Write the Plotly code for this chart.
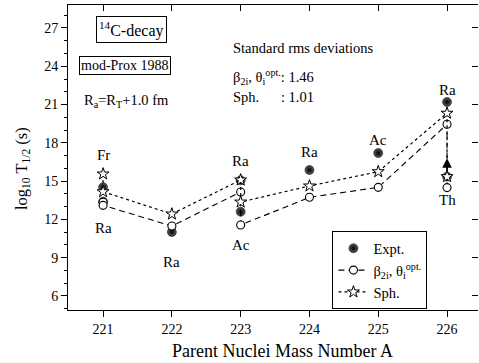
import plotly.graph_objects as go

# ---------------- data ----------------
mass_A = [221, 221, 222, 223, 223, 224, 225, 226, 226]
nuclei = ["Fr", "Ra", "Ra", "Ra", "Ac", "Ra", "Ac", "Ra", "Th"]
expt = [14.52, 13.39, 11.01, 15.06, 12.60, 15.87, 17.20, 21.20, 15.35]
beta_opt = [13.35, 13.10, 11.48, 14.15, 11.56, 13.73, 14.51, 19.45, 14.49]
sph = [15.56, 14.17, 12.42, 15.09, 13.36, 14.62, 15.74, 20.32, 15.35]
lower_limit = [False, False, False, False, False, False, False, False, True]
x_ticks = [221, 222, 223, 224, 225, 226]
y_ticks = [6, 9, 12, 15, 18, 21, 24, 27]

# label placement style (above/below markers, pixel offsets)
label_side = ["above", "below", "below", "above", "below", "above", "above", "above", "below"]
label_shift = [9, -13, -20, 9, -10, 8, 3, 2, -2]

FONT = "Liberation Serif"
X_RANGE = [220.49, 226.45]
Y_RANGE = [4.9, 28.8]

fig = go.Figure()

fig.add_trace(go.Scatter(
    x=mass_A, y=expt, mode="markers", name="Expt.",
    marker=dict(symbol="circle", size=9, color="#5a5a5a",
                gradient=dict(type="radial", color="black"),
                line=dict(color="black", width=0.5)),
))
fig.add_trace(go.Scatter(
    x=mass_A, y=beta_opt, mode="lines+markers",
    name="β<sub>2i</sub>, θ<sub>i</sub><sup>opt.</sup>",
    line=dict(color="black", width=1.1, dash="6px,4px"),
    marker=dict(symbol="circle", size=8, color="white",
                line=dict(color="black", width=1.1)),
))
fig.add_trace(go.Scatter(
    x=mass_A, y=sph, mode="lines+markers", name="Sph.",
    line=dict(color="black", width=1.2, dash="dot"),
    marker=dict(symbol="star", size=9, color="white",
                line=dict(color="black", width=1)),
))

# invisible traces to carry the mirrored (top / right) tick axes
fig.add_trace(go.Scatter(x=mass_A, y=expt, xaxis="x", yaxis="y2", mode="markers",
                         marker=dict(opacity=0), showlegend=False, hoverinfo="skip"))
fig.add_trace(go.Scatter(x=mass_A, y=expt, xaxis="x2", yaxis="y", mode="markers",
                         marker=dict(opacity=0), showlegend=False, hoverinfo="skip"))

annotations = []
# nucleus labels
for i, (a, name) in enumerate(zip(mass_A, nuclei)):
    vals = [expt[i], beta_opt[i], sph[i]]
    above = label_side[i] == "above"
    annotations.append(dict(x=a, y=max(vals) if above else min(vals), xref="x", yref="y",
                            text=name, showarrow=False, xanchor="center",
                            yanchor="bottom" if above else "top", yshift=label_shift[i],
                            font=dict(family=FONT, size=15, color="black")))

# lower-limit arrows
for i, a in enumerate(mass_A):
    if lower_limit[i]:
        annotations.append(dict(x=a, y=expt[i] + 1.45, ax=a, ay=expt[i],
                                xref="x", yref="y", axref="x", ayref="y",
                                text="", showarrow=True, arrowhead=2, arrowsize=1.2,
                                arrowwidth=1.6, arrowcolor="black", startstandoff=4))

txt = dict(family=FONT, size=14.5, color="black")
annotations += [
    dict(x=0.155, y=0.920, xref="paper", yref="paper", xanchor="center", yanchor="middle",
         text="<sup>14</sup>C-decay", showarrow=False,
         font=dict(family=FONT, size=16, color="black"),
         bordercolor="black", borderwidth=1, borderpad=2),
    dict(x=0.140, y=0.802, xref="paper", yref="paper", xanchor="center", yanchor="middle",
         text="mod-Prox 1988", showarrow=False, font=dict(family=FONT, size=14, color="black"),
         bordercolor="black", borderwidth=1, borderpad=1),
    dict(x=0.034, y=0.685, xref="paper", yref="paper", xanchor="left", yanchor="middle",
         text="R<sub>a</sub>=R<sub>T</sub>+1.0 fm", showarrow=False, font=txt),
    dict(x=0.398, y=0.859, xref="paper", yref="paper", xanchor="left", yanchor="middle",
         text="Standard rms deviations", showarrow=False, font=txt),
    dict(x=0.398, y=0.764, xref="paper", yref="paper", xanchor="left", yanchor="middle",
         text="β<sub>2i</sub>, θ<sub>i</sub><sup>opt.</sup>: 1.46", showarrow=False, font=txt),
    dict(x=0.398, y=0.700, xref="paper", yref="paper", xanchor="left", yanchor="middle",
         text="Sph.\u00a0\u00a0\u00a0\u00a0\u00a0\u00a0: 1.01", showarrow=False, font=txt),
    # axis titles
    dict(x=0, y=0.462, xref="paper", yref="paper", xanchor="center", yanchor="middle",
         xshift=-46, textangle=-90,
         text="log<sub>10</sub> T<sub>1/2</sub> (s)", showarrow=False,
         font=dict(family=FONT, size=16.5, color="black")),
    dict(x=0.522, y=0, xref="paper", yref="paper", xanchor="center", yanchor="middle",
         yshift=-41, text="Parent Nuclei Mass Number A", showarrow=False,
         font=dict(family=FONT, size=18, color="black")),
]

tickfont = dict(family=FONT, size=14, color="black")

fig.update_layout(
    width=479, height=363,
    margin=dict(l=68, r=1, t=5, b=53),
    paper_bgcolor="white", plot_bgcolor="white",
    font=dict(family=FONT, color="black"),
    showlegend=True,
    legend=dict(x=0.645, y=0.258, xanchor="left", yanchor="top",
                bordercolor="black", borderwidth=1, bgcolor="white",
                font=dict(family=FONT, size=14.5, color="black"),
                tracegroupgap=0, itemwidth=30),
    xaxis=dict(range=X_RANGE, tickvals=x_ticks, ticks="outside", ticklen=6,
               showline=True, mirror=True, linecolor="black", linewidth=1,
               tickcolor="black", tickfont=tickfont, showgrid=False, zeroline=False),
    yaxis=dict(range=Y_RANGE, tickvals=y_ticks, ticks="outside", ticklen=6,
               minor=dict(dtick=1, tick0=0, ticks="outside", ticklen=3, tickcolor="black"),
               showline=True, mirror=False, linecolor="black", linewidth=1,
               tickcolor="black", tickfont=tickfont, showgrid=False, zeroline=False),
    xaxis2=dict(range=X_RANGE, overlaying="x", side="top", anchor="y",
                tickvals=x_ticks, ticks="inside", ticklen=6, showticklabels=False,
                showgrid=False, zeroline=False, showline=False, tickcolor="black"),
    yaxis2=dict(range=Y_RANGE, overlaying="y", side="right", anchor="x",
                tickvals=y_ticks, ticks="inside", ticklen=6, showticklabels=False,
                showgrid=False, zeroline=False, showline=False, tickcolor="black"),
    annotations=annotations,
)

fig.write_html("out.html", config={"displayModeBar": False},
               post_script="document.body.style.margin='0';document.body.style.padding='0';")
